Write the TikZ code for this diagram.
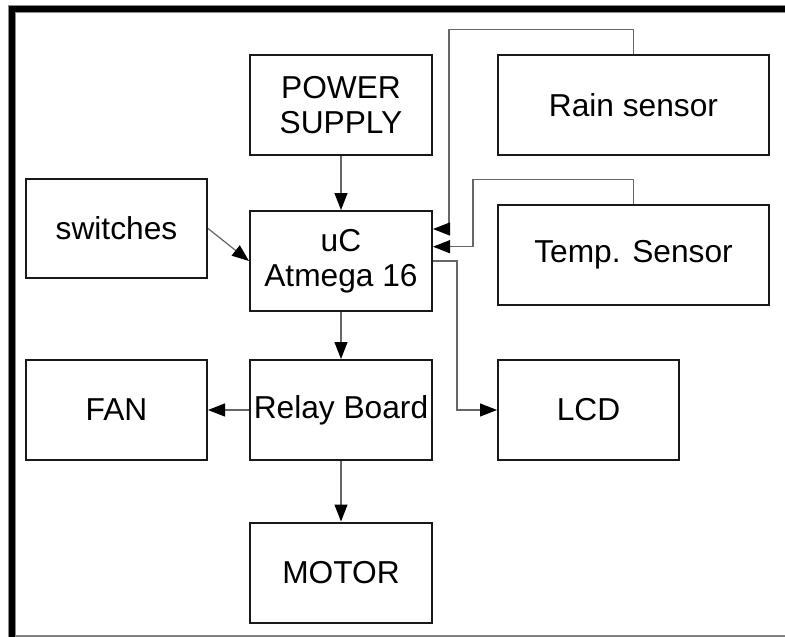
\documentclass[tikz,border=0pt]{standalone}
\usepackage{fontspec}
\setmainfont{Liberation Sans}
\usetikzlibrary{arrows.meta}
\tikzset{
  blk/.style={draw=black!90, line width=2pt, rectangle, inner sep=0pt,
    align=center, font=\fontsize{31.7}{35}\selectfont},
  conn/.style={draw=black!60, line width=1.2pt,
    -{Triangle[length=17pt,width=13pt,color=black]}},
}
\begin{document}
\begin{tikzpicture}[x=1pt,y=-1pt]
\useasboundingbox (0,0) rectangle (785,637);
\fill[white] (0,0) rectangle (785,637);
% frame
\draw[black!45, line width=8pt] (11.75,640) -- (11.75,8.75) -- (785,8.75);
\draw[black, line width=6pt] (11.75,640) -- (11.75,8.75) -- (785,8.75);
\draw[black!50, line width=1.5pt] (15,636) -- (785,636);
% blocks
\node[blk, minimum width=182, minimum height=100] (ps) at (341,105) {POWER\\SUPPLY};
\node[blk, minimum width=181, minimum height=99] (sw) at (116.5,228.5) {switches};
\node[blk, minimum width=182, minimum height=100] (uc) at (341,261) {uC\\Atmega 16};
\node[blk, minimum width=271, minimum height=100] (rain) at (633.5,105) {Rain sensor};
\node[blk, minimum width=271, minimum height=100] (temp) at (633.5,255) {Temp. Sensor};
\node[blk, minimum width=181, minimum height=100] (fan) at (116.5,410) {FAN};
\node[blk, minimum width=182, minimum height=100] (relay) at (341,410) {Relay Board};
\node[blk, minimum width=181, minimum height=100] (lcd) at (588.5,410) {LCD};
\node[blk, minimum width=182, minimum height=100] (motor) at (341,572.5) {MOTOR};
% connectors
\draw[conn] (ps.south) -- (uc.north);
\draw[conn] (sw.east) -- (uc.west);
\draw[conn] (rain.north) -- ++(0,-24.3) -| (449,229) -- (uc.east |- 0,229);
\draw[conn] (temp.north) -- ++(0,-24.7) -| (473,246.7) -- (uc.east |- 0,246.7);
\draw[conn] (uc.east) -- (457,261) |- (lcd.west);
\draw[conn] (uc.south) -- (relay.north);
\draw[conn] (relay.west) -- (fan.east);
\draw[conn] (relay.south) -- (motor.north);
\end{tikzpicture}
\end{document}
